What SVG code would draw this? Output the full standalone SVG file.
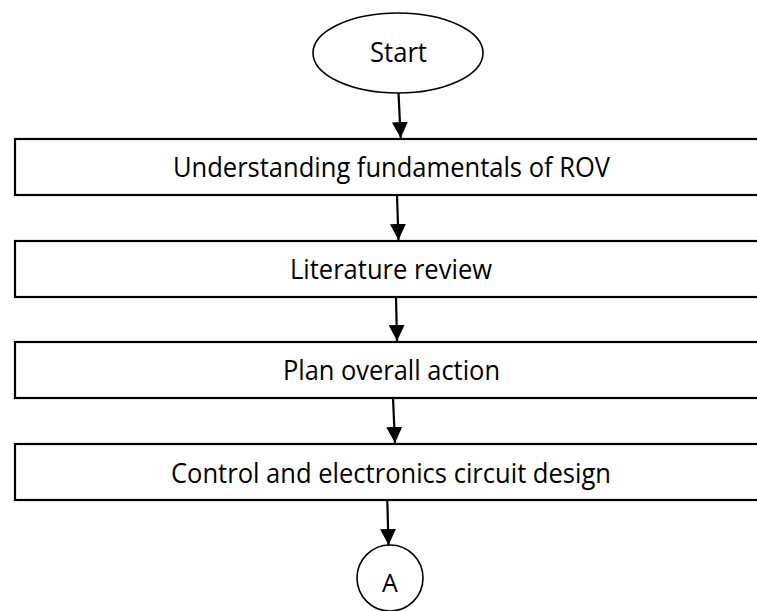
<svg xmlns="http://www.w3.org/2000/svg" width="757" height="611" viewBox="0 0 757 611">
  <style>
    .shape { fill: #ffffff; stroke: #000000; }
    .box { stroke-width: 2.2; }
    .term { stroke-width: 1.6; }
    .label { font-family: "Open Sans", "Noto Sans", sans-serif; font-size: 27px; fill: #000000; }
    .small { font-size: 25px; }
    .flow { stroke: #000000; stroke-width: 2.2; fill: none; marker-end: url(#head); }
  </style>
  <defs>
    <marker id="head" markerUnits="userSpaceOnUse" markerWidth="16" markerHeight="16" refX="16" refY="8" orient="auto">
      <path d="M0,0 L16,8 L0,16 Z" fill="#000000"/>
    </marker>
  </defs>

  <rect width="757" height="611" fill="#ffffff"/>

  <g id="start">
    <ellipse class="shape term" cx="398" cy="53" rx="85" ry="40"/>
    <text class="label" x="370" y="62" textLength="57" lengthAdjust="spacingAndGlyphs">Start</text>
  </g>

  <g id="fundamentals">
    <rect class="shape box" x="15" y="139" width="790" height="56"/>
    <text class="label" x="173" y="177" textLength="437" lengthAdjust="spacingAndGlyphs">Understanding fundamentals of ROV</text>
  </g>

  <g id="literature">
    <rect class="shape box" x="15" y="241" width="790" height="56"/>
    <text class="label" x="290" y="279" textLength="202" lengthAdjust="spacingAndGlyphs">Literature review</text>
  </g>

  <g id="plan">
    <rect class="shape box" x="15" y="342" width="790" height="56"/>
    <text class="label" x="283" y="380" textLength="217" lengthAdjust="spacingAndGlyphs">Plan overall action</text>
  </g>

  <g id="circuit">
    <rect class="shape box" x="15" y="444" width="790" height="56"/>
    <text class="label" x="171" y="483" textLength="440" lengthAdjust="spacingAndGlyphs">Control and electronics circuit design</text>
  </g>

  <g id="connector-a">
    <circle class="shape term" cx="390" cy="578" r="33"/>
    <text class="label small" x="390" y="592" text-anchor="middle">A</text>
  </g>

  <g id="connectors">
    <line class="flow" x1="398.5" y1="93" x2="400.7" y2="138"/>
    <line class="flow" x1="397" y1="195" x2="398.5" y2="240"/>
    <line class="flow" x1="396" y1="297" x2="397" y2="341"/>
    <line class="flow" x1="393" y1="398" x2="395" y2="443"/>
    <line class="flow" x1="387.3" y1="500" x2="388.5" y2="545"/>
  </g>
</svg>
